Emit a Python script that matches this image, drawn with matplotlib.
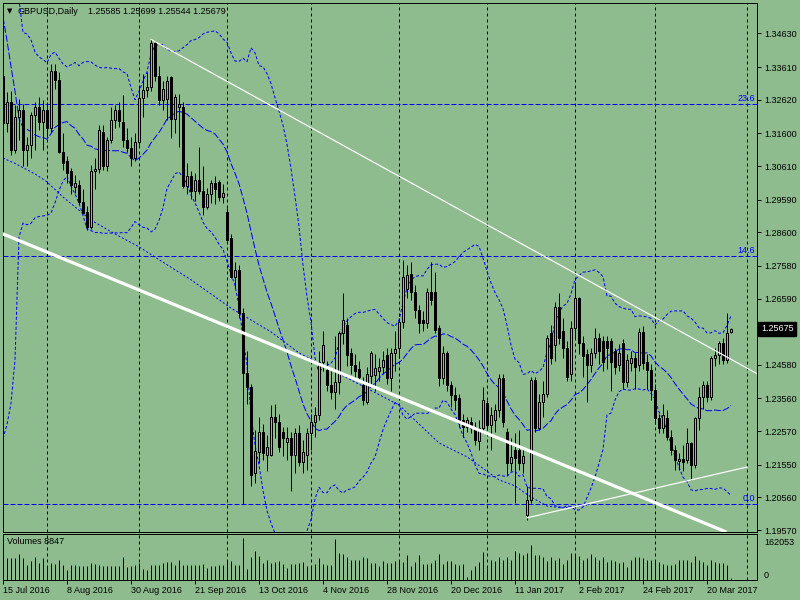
import numpy as np
import pandas as pd
import matplotlib
matplotlib.use("Agg")
import matplotlib.pyplot as plt
from matplotlib.transforms import blended_transform_factory

plt.rcParams['font.family'] = ['Liberation Sans', 'DejaVu Sans']
plt.rcParams['lines.scale_dashes'] = False

BG = '#8FBC8F'
PX = 0.72   # one pixel in points (dpi 100)
FS = 6.5

# daily bars, 15 Jul 2016 .. 28 Mar 2017
dates = pd.bdate_range('2016-07-15', '2017-03-28')

opens = [
    1.3335, 1.3190, 1.3255, 1.3110, 1.3210, 1.3230, 1.3110, 1.3125, 1.3215, 1.3240, 1.3195,
    1.3230, 1.3175, 1.3350, 1.3322, 1.3105, 1.3075, 1.3045, 1.2998, 1.3004, 1.2952, 1.2922, 1.2876,
    1.3045, 1.3052, 1.3165, 1.3060, 1.3140, 1.3201, 1.3231, 1.3195, 1.3140, 1.3115, 1.3085,
    1.3135, 1.3268, 1.3292, 1.3300, 1.3435, 1.3335, 1.3260, 1.3265, 1.3330, 1.3205, 1.3240,
    1.3240, 1.3000, 1.3030, 1.2985, 1.3020, 1.2985, 1.2937, 1.2975, 1.3010, 1.3012, 1.2967,
    1.2922, 1.2843, 1.2725, 1.2745, 1.2615, 1.2433, 1.2390, 1.2130, 1.2194, 1.2255, 1.2185,
    1.2185, 1.2300, 1.2285, 1.2255, 1.2224, 1.2236, 1.2185, 1.2251, 1.2163, 1.2185,
    1.2251, 1.2285, 1.2306, 1.2467, 1.2443, 1.2397, 1.2375, 1.2405, 1.2554, 1.2579, 1.2494,
    1.2458, 1.2445, 1.2397, 1.2346, 1.2425, 1.2427, 1.2440, 1.2452, 1.2488, 1.2418, 1.2494,
    1.2509, 1.2588, 1.2688, 1.2735, 1.2678, 1.2624, 1.2594, 1.2585, 1.2678, 1.2678, 1.2570,
    1.2418, 1.2494, 1.2397, 1.2367, 1.2358, 1.2291, 1.2270, 1.2285, 1.2270, 1.2227, 1.2267,
    1.2343, 1.2276, 1.2290, 1.2321, 1.2418, 1.2255, 1.2160, 1.2200, 1.2200, 1.2160, 1.2003,
    1.2048, 1.2412, 1.2267, 1.2346, 1.2370, 1.2554, 1.2518, 1.2633, 1.2560, 1.2510, 1.2430,
    1.2570, 1.2660, 1.2524, 1.2490, 1.2458, 1.2494, 1.2540, 1.2530, 1.2530, 1.2530,
    1.2500, 1.2458, 1.2524, 1.2406, 1.2463, 1.2478, 1.2458, 1.2558, 1.2466, 1.2443,
    1.2382, 1.2297, 1.2267, 1.2297, 1.2239, 1.2200, 1.2165, 1.2172, 1.2170, 1.2221,
    1.2155, 1.2297, 1.2361, 1.2397, 1.2361, 1.2479, 1.2488, 1.2524, 1.2473, 1.25585,
]
highs = [
    1.3480, 1.3285, 1.3290, 1.3245, 1.3265, 1.3250, 1.3150, 1.3225, 1.3255, 1.3270, 1.3260,
    1.3255, 1.3370, 1.3370, 1.3345, 1.3160, 1.3090, 1.3055, 1.3035, 1.3020, 1.2990, 1.2940, 1.3065,
    1.3085, 1.3185, 1.3185, 1.3150, 1.3240, 1.3245, 1.3255, 1.3275, 1.3175, 1.3150, 1.3160,
    1.3300, 1.3340, 1.3345, 1.3445, 1.3440, 1.3365, 1.3320, 1.3335, 1.3335, 1.3280, 1.3280,
    1.3255, 1.3070, 1.3045, 1.3040, 1.3120, 1.3060, 1.2995, 1.3020, 1.3030, 1.3020, 1.3005,
    1.2935, 1.2855, 1.2770, 1.2760, 1.2630, 1.2500, 1.2400, 1.2260, 1.2300, 1.2280, 1.2245,
    1.2335, 1.2340, 1.2310, 1.2270, 1.2270, 1.2255, 1.2265, 1.2275, 1.2230, 1.2265,
    1.2310, 1.2330, 1.2500, 1.2560, 1.2470, 1.2440, 1.2545, 1.2560, 1.2675, 1.2600, 1.2510,
    1.2490, 1.2470, 1.2420, 1.2450, 1.2500, 1.2490, 1.2480, 1.2500, 1.2510, 1.2510, 1.2560,
    1.2600, 1.2775, 1.2760, 1.2770, 1.2700, 1.2640, 1.2620, 1.2690, 1.2770, 1.2740, 1.2580,
    1.2515, 1.2500, 1.2410, 1.2390, 1.2370, 1.2310, 1.2300, 1.2300, 1.2285, 1.2290, 1.2390,
    1.2350, 1.2330, 1.2340, 1.2430, 1.2430, 1.2265, 1.2235, 1.2250, 1.2260, 1.2200, 1.2090,
    1.2420, 1.2420, 1.2370, 1.2410, 1.2550, 1.2580, 1.2650, 1.2675, 1.2600, 1.2530, 1.2590,
    1.2710, 1.2665, 1.2545, 1.2505, 1.2510, 1.2570, 1.2555, 1.2545, 1.2545, 1.2540,
    1.2510, 1.2520, 1.2535, 1.2490, 1.2500, 1.2495, 1.2570, 1.2575, 1.2490, 1.2460,
    1.2400, 1.2310, 1.2340, 1.2320, 1.2260, 1.2215, 1.2190, 1.2215, 1.2265, 1.2225,
    1.2300, 1.2390, 1.2410, 1.2410, 1.2485, 1.2510, 1.2530, 1.2540, 1.2615, 1.25699,
]
lows = [
    1.3155, 1.3165, 1.3095, 1.3100, 1.3140, 1.3060, 1.3060, 1.3085, 1.3110, 1.3170, 1.3110,
    1.3150, 1.3165, 1.3295, 1.3100, 1.3050, 1.3010, 1.2975, 1.2980, 1.2945, 1.2915, 1.2867, 1.2870,
    1.2990, 1.3040, 1.3050, 1.3045, 1.3130, 1.3175, 1.3180, 1.3120, 1.3105, 1.3060, 1.3075,
    1.3125, 1.3210, 1.3270, 1.3290, 1.3320, 1.3245, 1.3230, 1.3200, 1.3145, 1.3160, 1.3120,
    1.2995, 1.2975, 1.2960, 1.2955, 1.2975, 1.2913, 1.2930, 1.2950, 1.2945, 1.2955, 1.2950,
    1.2835, 1.2720, 1.2690, 1.2600, 1.2035, 1.2340, 1.2090, 1.2100, 1.2160, 1.2170, 1.2135,
    1.2180, 1.2235, 1.2195, 1.2180, 1.2170, 1.2076, 1.2130, 1.2150, 1.2130, 1.2140,
    1.2200, 1.2240, 1.2290, 1.2440, 1.2380, 1.2355, 1.2325, 1.2370, 1.2520, 1.2455, 1.2430,
    1.2420, 1.2410, 1.2337, 1.2340, 1.2400, 1.2380, 1.2410, 1.2430, 1.2400, 1.2380, 1.2440,
    1.2480, 1.2570, 1.2660, 1.2655, 1.2600, 1.2555, 1.2560, 1.2570, 1.2640, 1.2555, 1.2395,
    1.2400, 1.2380, 1.2330, 1.2320, 1.2270, 1.2240, 1.2255, 1.2250, 1.2215, 1.2200, 1.2250,
    1.2260, 1.2200, 1.2255, 1.2300, 1.2270, 1.2125, 1.2135, 1.2040, 1.2140, 1.2130, 1.1988,
    1.2040, 1.2255, 1.2260, 1.2300, 1.2360, 1.2460, 1.2470, 1.2520, 1.2480, 1.2410, 1.2410,
    1.2540, 1.2490, 1.2420, 1.2345, 1.2435, 1.2480, 1.2460, 1.2440, 1.2445, 1.2380,
    1.2430, 1.2440, 1.2385, 1.2390, 1.2440, 1.2385, 1.2440, 1.2445, 1.2385, 1.2350,
    1.2280, 1.2250, 1.2250, 1.2230, 1.2185, 1.2140, 1.2140, 1.2135, 1.2160, 1.2109,
    1.2145, 1.2260, 1.2325, 1.2345, 1.2350, 1.2455, 1.2460, 1.2460, 1.2465, 1.25544,
]
closes = [
    1.3190, 1.3255, 1.3110, 1.3210, 1.3230, 1.3110, 1.3125, 1.3215, 1.3240, 1.3195, 1.3230,
    1.3175, 1.3350, 1.3322, 1.3105, 1.3070, 1.3040, 1.3003, 1.3010, 1.2952, 1.2918, 1.2876, 1.3045,
    1.3052, 1.3170, 1.3060, 1.3140, 1.3201, 1.3231, 1.3198, 1.3140, 1.3115, 1.3085, 1.3135,
    1.3268, 1.3292, 1.3300, 1.3435, 1.3335, 1.3260, 1.3295, 1.3320, 1.3205, 1.3270, 1.3250,
    1.3000, 1.3030, 1.2985, 1.3020, 1.2985, 1.2937, 1.2975, 1.3010, 1.2990, 1.2967, 1.2980,
    1.2837, 1.2725, 1.2745, 1.2615, 1.2433, 1.2390, 1.2124, 1.2197, 1.2255, 1.2191, 1.2210,
    1.2300, 1.2285, 1.2209, 1.2236, 1.2236, 1.2185, 1.2251, 1.2163, 1.2195, 1.2251,
    1.2285, 1.2306, 1.2467, 1.2519, 1.2397, 1.2375, 1.2405, 1.2554, 1.2594, 1.2488, 1.2458,
    1.2440, 1.2420, 1.2352, 1.2430, 1.2494, 1.2449, 1.2452, 1.2473, 1.2418, 1.2494, 1.2506,
    1.2588, 1.2725, 1.2730, 1.2678, 1.2624, 1.2585, 1.2585, 1.2678, 1.2655, 1.2565, 1.2418,
    1.2494, 1.2397, 1.2367, 1.2352, 1.2285, 1.2270, 1.2291, 1.2267, 1.2230, 1.2267, 1.2352,
    1.2276, 1.2306, 1.2320, 1.2418, 1.2285, 1.2160, 1.2179, 1.2175, 1.2160, 1.2180, 1.2048,
    1.2412, 1.2267, 1.2346, 1.2370, 1.2540, 1.2480, 1.2633, 1.2540, 1.2510, 1.2420, 1.2570,
    1.2660, 1.2524, 1.2485, 1.2458, 1.2494, 1.2540, 1.2500, 1.2466, 1.2510, 1.2467,
    1.2450, 1.2494, 1.2406, 1.2473, 1.2478, 1.2450, 1.2558, 1.2463, 1.2443, 1.2382,
    1.2297, 1.2267, 1.2306, 1.2239, 1.2200, 1.2170, 1.2172, 1.2163, 1.2221, 1.2155,
    1.2297, 1.2361, 1.2397, 1.2361, 1.2479, 1.2488, 1.2524, 1.2473, 1.2555, 1.25679,
]
# closes 20 Jun .. 14 Jul 2016 (needed for the 20-bar bands at the left edge)
pre_closes = [1.4680, 1.4685, 1.4710, 1.4880, 1.3680, 1.3220, 1.3350, 1.3440, 1.3310, 1.3280,
              1.3270, 1.3020, 1.2940, 1.2925, 1.2950, 1.2985, 1.3245, 1.3170, 1.3330]

# tick volume, thousands
volumes_k = [
    105, 83, 83, 83, 100, 83, 57, 74, 90, 66, 83,
    50, 66, 63, 76, 57, 40, 59, 59, 53, 54, 53, 67, 63, 59, 53, 53, 53, 53, 53, 90, 50, 53, 59,
    66, 43, 37, 57, 59, 59, 66, 69, 69, 59, 76, 59, 59, 59, 59, 59, 63, 46, 53, 54, 59, 57,
    79, 72, 59, 59, 162.053, 43, 90, 112, 92, 67, 76, 67, 70, 72, 63, 46, 63, 63, 67, 70, 54,
    54, 63, 86, 63, 59, 59, 159, 103, 99, 90, 79, 79, 79, 90, 86, 67, 67, 54, 72, 67, 67, 72,
    72, 70, 96, 54, 70, 96, 61, 63, 66, 79, 100, 63, 72, 72, 61, 59, 61, 11, 40, 54, 70, 109,
    46, 79, 72, 90, 79, 90, 79, 112, 103, 96, 103, 136, 96, 96, 90, 72, 90, 79, 86, 63, 79, 103,
    99, 92, 79, 86, 99, 90, 79, 90, 70, 76, 72, 66, 70, 50, 76, 90, 90, 83, 76, 76,
    79, 70, 63, 57, 59, 63, 79, 79, 76, 70, 92, 79, 70, 59, 79, 70, 66, 66, 59, 8.847,
]

# long dotted lower envelope (bar index, price)
env_bar = [0, 3, 8, 11, 15, 22, 28, 34, 39, 47, 57, 67, 74, 87, 99, 109, 116, 124, 128, 132, 136, 140, 146]
env_val = [1.3085, 1.3069, 1.3037, 1.3013, 1.2967, 1.2897, 1.2855, 1.2816, 1.2777, 1.2716, 1.2630,
           1.2558, 1.2494, 1.2412, 1.2336, 1.2221, 1.2179, 1.2109, 1.2091, 1.2057, 1.2030, 1.2024, 1.2033]

# trend lines (bar index, price)
trend_a = [(37, 1.3445), (160, 1.2622)]     # thin ray from the Sep high
trend_b = [(0, 1.2855), (170, 1.2005)]      # thick line
trend_c = [(131, 1.1994), (186, 1.2148)]    # thin segment from the Jan low

fib_levels = [1.3249, 1.2787, 1.2036]
fib_labels = ['23.6', '14.6', '0.0']

price_ticks = [1.34630, 1.33610, 1.32620, 1.31600, 1.30610, 1.29590, 1.28600, 1.27580,
               1.26590, 1.24580, 1.23560, 1.22570, 1.21550, 1.20560, 1.19570]
last_price = 1.25675

o = np.array(opens); h = np.array(highs); l = np.array(lows); c = np.array(closes)
vol = np.array(volumes_k) * 1000
n = len(c)
x = np.arange(n)

# bollinger 20,2
allc = pd.Series(pre_closes + closes)
mid = allc.rolling(20).mean().values[len(pre_closes):]
sd = allc.rolling(20).std(ddof=0).values[len(pre_closes):]

fig = plt.figure(figsize=(8, 6), dpi=100, facecolor=BG)


def box(left, top, right, bottom):
    return [left / 800, 1 - bottom / 600, (right - left) / 800, (bottom - top) / 600]


ax = fig.add_axes(box(2.5, 2.5, 757, 531.5), facecolor=BG)
axv = fig.add_axes(box(2.5, 534, 757, 580), facecolor=BG)

for a in (ax, axv):
    a.set_xlim(-0.125, 188.5)
    for s in a.spines.values():
        s.set_color('black')
        s.set_linewidth(PX)

ax.set_ylim(1.19525, 1.35570)
axv.set_ylim(0, 162053 * 46 / 42)

# monthly separators
ext = pd.bdate_range(dates[0], '2017-04-07')
month_first = [i for i in range(1, len(ext)) if ext[i].month != ext[i - 1].month]
for a in (ax, axv):
    for m in month_first:
        a.axvline(m, color='black', lw=PX, dashes=(3 * PX, 3 * PX), zorder=1)

# fibo levels
tr = blended_transform_factory(ax.transAxes, ax.transData)
for lev, lab in zip(fib_levels, fib_labels):
    ax.axhline(lev, color='#0000FF', lw=PX, dashes=(5 * PX, 2 * PX), zorder=1.5)
    ax.text(0.9975, lev + 0.0004, lab, transform=tr, color='#0000FF', fontsize=FS,
            ha='right', va='bottom')

# bands
ax.plot(x, mid + 2 * sd, color='#0000FF', lw=PX, dashes=(3 * PX, 2 * PX), zorder=2)
ax.plot(x, mid - 2 * sd, color='#0000FF', lw=PX, dashes=(3 * PX, 2 * PX), zorder=2)
ax.plot(x, mid, color='#0000FF', lw=PX, dashes=(7 * PX, 2 * PX), zorder=2)
ax.plot(env_bar, env_val, color='#0000FF', lw=PX, dashes=(2 * PX, 2 * PX), zorder=2)

# candles
up = c >= o
body_lo = np.minimum(o, c)
body_h = np.maximum(np.abs(c - o), 0.00004)
ax.vlines(x, l, h, color='black', lw=PX, zorder=3)
ax.bar(x[up], body_h[up], bottom=body_lo[up], width=0.5, facecolor=BG,
       edgecolor='black', linewidth=PX, zorder=4)
ax.bar(x[~up], body_h[~up], bottom=body_lo[~up], width=0.5, facecolor='black',
       edgecolor='black', linewidth=PX, zorder=4)

# trend lines
(a0, p0), (a1, p1) = trend_a
slope = (p1 - p0) / (a1 - a0)
ax.plot([a0, 188.5], [p0, p0 + slope * (188.5 - a0)], color='white', lw=PX * 1.2, zorder=5)
ax.axline(trend_b[0], trend_b[1], color='white', lw=2.3, zorder=5)
ax.plot([trend_c[0][0], trend_c[1][0]], [trend_c[0][1], trend_c[1][1]],
        color='white', lw=PX * 1.2, zorder=5)

# price axis
ax.yaxis.tick_right()
ax.set_yticks(price_ticks)
ax.set_yticklabels([f'{p:.5f}' for p in price_ticks])
ax.tick_params(axis='y', length=3, width=PX, labelsize=FS, pad=2, colors='black')
ax.tick_params(axis='x', bottom=False, labelbottom=False)
ax.text(1.0 + 4 / 754.5, last_price, '1.25675', transform=tr, color='white', fontsize=FS,
        ha='left', va='center', zorder=10,
        bbox=dict(boxstyle='square,pad=0.3', fc='black', ec='black'))

# volumes
axv.vlines(x, 0, vol, color='black', lw=PX, zorder=3)
axv.yaxis.tick_right()
axv.set_yticks([0, 162053])
axv.set_yticklabels(['0', '162053'])
axv.tick_params(axis='y', length=0, labelsize=FS, pad=5)
ylabs = axv.get_yticklabels()
ylabs[0].set_va('bottom')
ylabs[1].set_va('top')
axv.text(0.006, 0.83, 'Volumes 8847', transform=axv.transAxes, fontsize=FS, va='center')

lab_idx = list(range(0, n, 16))
axv.set_xticks(lab_idx)
axv.set_xticklabels([f'{dates[i].day} {dates[i]:%b %Y}' for i in lab_idx])
for t in axv.get_xticklabels():
    t.set_ha('left')
axv.tick_params(axis='x', length=3, width=PX, labelsize=FS, pad=1.5)

# header
fig.text(7 / 800, 1 - 11 / 600, '\u25BC', fontsize=5, va='center', family=['DejaVu Sans'])
fig.text(18 / 800, 1 - 11 / 600, 'GBPUSD,Daily', fontsize=FS, va='center')
fig.text(88 / 800, 1 - 11 / 600, '1.25585 1.25699 1.25544 1.25679', fontsize=FS, va='center')

fig.savefig('out.png', dpi=100, facecolor=BG)
